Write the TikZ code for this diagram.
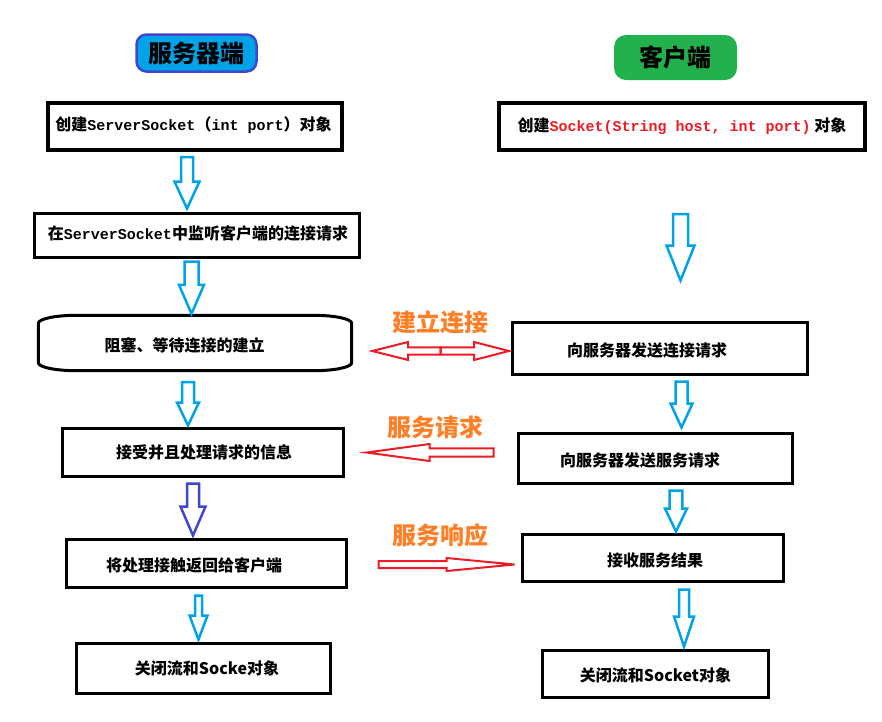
\documentclass[tikz,border=0pt]{standalone}
\usepackage{fontspec}
\setmainfont{Noto Sans CJK SC}
\newfontfamily\monofont{Liberation Mono}
\usetikzlibrary{calc}
\definecolor{arrowcyan}{HTML}{00A2E8}
\definecolor{arrowindigo}{HTML}{3F48CC}
\definecolor{linkred}{HTML}{ED1C24}
\definecolor{labelorange}{HTML}{FF7F27}
\definecolor{clientgreen}{HTML}{22B14C}
\newcommand{\srccode}[1]{{\monofont\fontsize{15}{18}\selectfont #1}}
% hollow block arrow: tail, tip, shaft half width, head half width, head length
\newcommand{\blockarrow}[6][cyanarrow]{%
  \draw[#1] let \p1=(#2), \p2=(#3), \p3=($(#3)!#6pt!(#2)$) in
    ($(\p1)!#4pt!90:(\p2)$) -- ($(\p3)!#4pt!90:(\p2)$) -- ($(\p3)!#5pt!90:(\p2)$)
    -- (\p2) -- ($(\p3)!#5pt!-90:(\p2)$) -- ($(\p3)!#4pt!-90:(\p2)$)
    -- ($(\p1)!#4pt!-90:(\p2)$) -- cycle;}

\begin{document}
\begin{tikzpicture}[x=1pt, y=-1pt,
    procbox/.style={draw, line width=3pt, inner sep=0pt},
    boxtext/.style={inner sep=0pt, font=\fontsize{16}{18}\selectfont\bfseries},
    headtext/.style={inner sep=0pt, font=\fontsize{24}{28}\selectfont\bfseries},
    linklabel/.style={inner sep=0pt, text=labelorange, font=\fontsize{24}{28}\selectfont\bfseries},
    cyanarrow/.style={draw=arrowcyan, line width=2.5pt, line join=miter},
    indigoarrow/.style={draw=arrowindigo, line width=2.5pt, line join=miter},
    redarrow/.style={draw=linkred, line width=2pt, line join=miter}]
\useasboundingbox (0,0) rectangle (882,721);

% column headers
\node[headtext, fill=arrowcyan, draw=arrowindigo, line width=2.5pt, rounded corners=10pt,
      minimum width=120pt, minimum height=37pt] (srvhead) at (196.5,53) {服务器端};
\node[headtext, fill=clientgreen, rounded corners=12pt,
      minimum width=123pt, minimum height=45pt] (clthead) at (675.5,57.5) {客户端};

% server side
\node[procbox, line width=4pt, minimum width=294pt, minimum height=47pt] (s1) at (195,126.5) {};
\node[procbox, minimum width=325pt, minimum height=44pt] (s2) at (197,235.5) {};
\node[inner sep=0pt, minimum width=313pt, minimum height=55pt] (s3) at (195,343) {};
\draw[line width=3pt] ([yshift=-8pt]s3.north west) arc[start angle=180, end angle=90, x radius=38pt, y radius=8pt]
  -- ([xshift=-38pt]s3.north east) arc[start angle=90, end angle=0, x radius=38pt, y radius=8pt]
  -- ([yshift=8pt]s3.south east) arc[start angle=0, end angle=-90, x radius=38pt, y radius=8pt]
  -- ([xshift=38pt]s3.south west) arc[start angle=-90, end angle=-180, x radius=38pt, y radius=8pt]
  -- cycle;
\node[procbox, minimum width=281pt, minimum height=48pt] (s4) at (203,452.5) {};
\node[procbox, minimum width=280pt, minimum height=48pt] (s5) at (206.5,563.5) {};
\node[procbox, minimum width=254pt, minimum height=50pt] (s6) at (203.5,668) {};

\node[boxtext] (s1t) at ([xshift=-1.5pt,yshift=1.5pt]s1.center) {创建\srccode{ServerSocket}（\srccode{int port}）对象};
\node[boxtext] (s2t) at ([xshift=1pt,yshift=2.5pt]s2.center) {在\srccode{ServerSocket}中监听客户端的连接请求};
\node[boxtext] (s3t) at ([xshift=-10.5pt,yshift=-2pt]s3.center) {阻塞、等待连接的建立};
\node[boxtext] (s4t) at ([xshift=1pt]s4.center) {接受并且处理请求的信息};
\node[boxtext] (s5t) at ([xshift=-12.5pt,yshift=-1.5pt]s5.center) {将处理接触返回给客户端};
\node[boxtext] (s6t) at ([xshift=3.5pt]s6.center) {关闭流和Socke对象};

% client side
\node[procbox, line width=4pt, minimum width=366pt, minimum height=47pt] (c1) at (682,126.5) {};
\node[procbox, minimum width=295pt, minimum height=52pt] (c2) at (660,348.5) {};
\node[procbox, minimum width=274pt, minimum height=50pt] (c3) at (655.5,458.5) {};
\node[procbox, minimum width=261pt, minimum height=47pt] (c4) at (653,558) {};
\node[procbox, minimum width=226pt, minimum height=47pt] (c6) at (655.5,674) {};

\node[boxtext] (c1t) at (c1.center) {创建\textcolor{linkred}{\srccode{Socket(String host, int port)}} 对象};
\node[boxtext] (c2t) at ([xshift=-13pt,yshift=-1.5pt]c2.center) {向服务器发送连接请求};
\node[boxtext] (c3t) at ([xshift=-15.5pt,yshift=-1.5pt]c3.center) {向服务器发送服务请求};
\node[boxtext] (c4t) at ([xshift=2pt,yshift=-2pt]c4.center) {接收服务结果};
\node[boxtext] (c6t) at ([yshift=-1pt]c6.center) {关闭流和Socket对象};

% flow arrows
\coordinate (a1s) at ([xshift=-8pt,yshift=-5pt]s1.south);
\coordinate (a1e) at ($(a1s |- s2.north)+(0,-3.5)$);
\coordinate (a2s) at ([xshift=-5.5pt,yshift=-2.5pt]s2.south);
\coordinate (a2e) at ($(a2s |- s3.north)+(0,-1.5)$);
\coordinate (a3s) at ([xshift=-7pt,yshift=-11.5pt]s3.south);
\coordinate (a3e) at ($(a3s |- s4.north)+(0,-1.5)$);
\coordinate (a4s) at ([xshift=-10pt,yshift=-5.5pt]s4.south);
\coordinate (a4e) at ($(a4s |- s5.north)+(0,-2.5)$);
\coordinate (a5s) at ([xshift=-8pt,yshift=-6.5pt]s5.south);
\coordinate (a5e) at ($(a5s |- s6.north)+(0,-2)$);
\blockarrow{a1s}{a1e}{6}{12.5}{27}
\blockarrow{a2s}{a2e}{7}{12.5}{29}
\blockarrow{a3s}{a3e}{6}{11}{23}
\blockarrow[indigoarrow]{a4s}{a4e}{6}{12.5}{29}
\blockarrow{a5s}{a5e}{3.5}{9}{24}

\coordinate (b1s) at ([xshift=-1.5pt,yshift=-62pt]c1.south);
\coordinate (b1e) at ($(b1s |- c2.north)+(0,-40.5)$);
\coordinate (b2s) at ([xshift=21.5pt,yshift=-5.5pt]c2.south);
\coordinate (b2e) at ($(b2s |- c3.north)+(0,-4.5)$);
\coordinate (b3s) at ([xshift=20.5pt,yshift=-5.5pt]c3.south);
\coordinate (b3e) at ($(b3s |- c4.north)+(0,-1.5)$);
\coordinate (b4s) at ([xshift=31pt,yshift=-6.5pt]c4.south);
\coordinate (b4e) at ($(b4s |- c6.north)+(0,-2.5)$);
\blockarrow{b1s}{b1e}{7.5}{14}{35}
\blockarrow{b2s}{b2e}{6}{11}{24}
\blockarrow{b3s}{b3e}{6.3}{11}{23}
\blockarrow{b4s}{b4e}{5}{10}{30}

% links between server and client
\coordinate (ltip) at ([xshift=20.5pt,yshift=-8pt]s3.east);
\coordinate (rtip) at ($(c2.west |- ltip)+(-2,0)$);
\coordinate (mid) at ($(ltip)!0.5!(rtip)$);
\blockarrow[redarrow]{mid}{ltip}{3.7}{9}{36}
\blockarrow[redarrow]{mid}{rtip}{3.7}{9}{35}
\node[linklabel] (linklbl) at ($(mid)+(0,-29)$) {建立连接};

\coordinate (reqtip) at ([xshift=21.5pt]s4.east);
\coordinate (reqtail) at ($(c3.west |- reqtip)+(-23.5,0)$);
\blockarrow[redarrow]{reqtail}{reqtip}{4.2}{8.5}{63}
\node[linklabel] (reqlbl) at ($(reqtip)!0.5!(reqtail)+(5,-25)$) {服务请求};

\coordinate (resptail) at ([xshift=30.5pt,yshift=-1pt]s5.east);
\coordinate (resptip) at ($(c4.west |- resptail)+(-6.5,0)$);
\blockarrow[redarrow]{resptail}{resptip}{3.5}{6.5}{68}
\node[linklabel] (resplbl) at ($(resptail)!0.5!(resptip)+(-6,-29.5)$) {服务响应};
\end{tikzpicture}
\end{document}
